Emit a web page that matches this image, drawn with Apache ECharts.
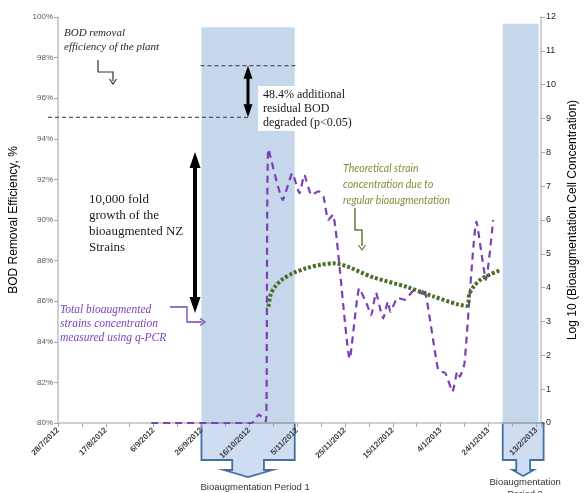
<!DOCTYPE html>
<html><head><meta charset="utf-8">
<script src="https://cdn.jsdelivr.net/npm/echarts@6/dist/echarts.min.js"></script>
<style>html,body{margin:0;padding:0;background:#fff}#c{width:587px;height:493px}</style>
</head><body><div id="c"></div>
<script>
// ---------- data ----------
const axisStart = '2012-07-28';
const xTickLabels = ['28/7/2012','17/8/2012','6/9/2012','26/9/2012','16/10/2012','5/11/2012',
  '25/11/2012','15/12/2012','4/1/2013','24/1/2013','13/2/2013'];
const axisEnd = '2013-02-15';

// Total bioaugmented strains concentration measured using q-PCR (log10)
const qpcrDates = ['2012-09-05','2012-10-17','2012-10-20','2012-10-23','2012-10-24','2012-10-30',
  '2012-11-03','2012-11-06','2012-11-08','2012-11-11','2012-11-14','2012-11-16','2012-11-18',
  '2012-11-20','2012-11-27','2012-12-01','2012-12-04','2012-12-06','2012-12-08','2012-12-10',
  '2012-12-11','2012-12-13','2012-12-14','2012-12-17','2012-12-20','2012-12-24','2012-12-27',
  '2012-12-28','2013-01-03','2013-01-06','2013-01-09','2013-01-11','2013-01-12','2013-01-14',
  '2013-01-19','2013-01-23','2013-01-26'];
const qpcrLog10 = [0, 0, 0.25, 0.05, 8.1, 6.59,
  7.38, 6.79, 7.33, 6.74, 6.85, 6.7, 6.0,
  6.15, 1.9, 3.98, 3.54, 3.19, 3.85, 3.3,
  3.09, 3.59, 3.29, 3.7, 3.64, 3.93, 3.83,
  3.98, 1.57, 1.47, 0.93, 1.52, 1.37, 1.76,
  5.95, 4.23, 6.0];

// Theoretical strain concentration due to regular bioaugmentation (log10)
const theoryDates = ['2012-10-24','2012-10-25','2012-10-27','2012-10-30','2012-11-03','2012-11-09',
  '2012-11-15','2012-11-20','2012-12-07','2012-12-21','2013-01-01','2013-01-15','2013-01-16',
  '2013-01-18','2013-01-21','2013-01-25','2013-01-29'];
const theoryLog10 = [3.44, 3.8, 4.05, 4.25, 4.42, 4.58,
  4.68, 4.72, 4.3, 4.02, 3.74, 3.46, 3.8,
  4.05, 4.25, 4.4, 4.52];

// Bioaugmentation periods
const periodStart = ['2012-09-26','2013-01-30'];
const periodEnd = ['2012-11-04','2013-02-14'];
const periodTop = [11.7, 11.8];
const periodLabels = ['Bioaugmentation Period 1', 'Bioaugmentation\nPeriod 2'];

// BOD removal efficiency of the plant (%): before, after
const bodEfficiency = [95.06, 97.6];

// ---------- helpers ----------
function day(s) {
  const a = s.split('-').map(Number), b = axisStart.split('-').map(Number);
  return (Date.UTC(a[0], a[1]-1, a[2]) - Date.UTC(b[0], b[1]-1, b[2])) / 86400000;
}
const qpcrData = qpcrDates.map((d, i) => [day(d), qpcrLog10[i]]);
const theoryData = theoryDates.map((d, i) => [day(d), theoryLog10[i]]);
const periodData = periodStart.map((d, i) => [day(d), day(periodEnd[i]), periodTop[i], i]);

const chart = echarts.init(document.getElementById('c'), null, {renderer: 'canvas'});
const grey = '#bfbfbf';

chart.setOption({
  animation: false,
  backgroundColor: '#fff',
  grid: {left: 57, right: 45, top: 17, bottom: 70, containLabel: false},
  xAxis: {
    type: 'value', min: 0, max: day(axisEnd), interval: 10, z: 2,
    splitLine: {show: false},
    axisLine: {lineStyle: {color: grey, width: 1.5}},
    axisTick: {length: 4, lineStyle: {color: '#a6a6a6'}},
    axisLabel: {
      rotate: 45, fontSize: 8, fontWeight: 'bold', color: '#404040', margin: 6,
      fontFamily: 'Liberation Sans',
      formatter: v => (v % 20 === 0 && v / 20 < xTickLabels.length) ? xTickLabels[v / 20] : ''
    }
  },
  yAxis: [{
    type: 'value', min: 80, max: 100, interval: 2, position: 'left',
    name: 'BOD Removal Efficiency, %', nameLocation: 'middle', nameGap: 38,
    nameTextStyle: {fontSize: 12, color: '#000', fontFamily: 'Liberation Sans'},
    splitLine: {show: false},
    axisLine: {show: true, lineStyle: {color: grey, width: 1.5}},
    axisTick: {show: true, length: 4, lineStyle: {color: '#a6a6a6'}},
    axisLabel: {formatter: '{value}%', fontSize: 8, color: '#595959', margin: 5, fontFamily: 'Liberation Sans'}
  }, {
    type: 'value', min: 0, max: 12, interval: 1, position: 'right',
    name: 'Log 10 (Bioaugmentation Cell Concentration)', nameLocation: 'middle', nameGap: 26, nameRotate: 90,
    nameTextStyle: {fontSize: 12, color: '#000', fontFamily: 'Liberation Sans', padding: [0, 0, 0, 0]},
    splitLine: {show: false},
    axisLine: {show: true, lineStyle: {color: grey, width: 1.5}},
    axisTick: {show: true, length: 4, lineStyle: {color: '#a6a6a6'}},
    axisLabel: {fontSize: 9, color: '#262626', margin: 5, fontFamily: 'Liberation Sans'}
  }],
  series: [{
    type: 'custom', yAxisIndex: 1, z: 1, clip: false, silent: true,
    encode: {x: [0, 1], y: 2},
    data: periodData,
    renderItem: (params, api) => {
      const s = api.value(0), e = api.value(1), top = api.value(2), idx = api.value(3);
      const a = api.coord([s, 0]), b = api.coord([e, top]);
      const L = a[0], R = b[0] + (idx === 1 ? 5 : 0), yb = a[1];
      const w = R - L, cx = (L + R) / 2;
      const stem = 0.17 * w, wing = 0.26 * w;
      const bBot = yb + 37, sBot = bBot + 10, tip = sBot + (idx === 0 ? 7 : 6);
      const lines = periodLabels[idx].split('\n').length;
      return {type: 'group', children: [
        {type: 'rect', shape: {x: a[0], y: b[1], width: b[0] - a[0], height: a[1] - b[1]},
          style: {fill: '#c6d7ec'}},
        {type: 'polygon', shape: {points: [[L, yb], [R, yb], [R, bBot], [cx + stem, bBot], [cx + stem, sBot],
          [cx + wing, sBot], [cx, tip], [cx - wing, sBot], [cx - stem, sBot], [cx - stem, bBot], [L, bBot]]},
          style: {fill: 'rgba(190,210,236,0.75)', stroke: '#41709f', lineWidth: 1.8}, z2: 5},
        {type: 'text', x: cx + (idx === 0 ? 7 : 2), y: tip + (lines > 1 ? 0 : 4),
          style: {text: periodLabels[idx], fill: '#333', fontSize: 9.5, fontFamily: 'Liberation Sans',
            align: 'center', verticalAlign: 'top', lineHeight: 12}, z2: 6}
      ]};
    }
  }, {
    name: 'q-PCR', type: 'line', yAxisIndex: 1, z: 3, data: qpcrData,
    showSymbol: false, smooth: 0.15,
    lineStyle: {color: '#7b3fb8', width: 2.2, type: [7, 5]}
  }, {
    name: 'Theoretical', type: 'line', yAxisIndex: 1, z: 4, data: theoryData,
    showSymbol: false, smooth: 0.3,
    lineStyle: {color: '#4b6e2e', width: 4, type: [3, 2], cap: 'butt'}
  }]
});

// ---------- annotations ----------
const X = d => chart.convertToPixel({xAxisIndex: 0}, d);
const YL = v => chart.convertToPixel({yAxisIndex: 0}, v);

function head(x, y, dx, dy, len, half, color, open) {
  const bx = x - dx * len, by = y - dy * len, px = -dy * half, py = dx * half;
  const pts = [[bx + px, by + py], [x, y], [bx - px, by - py]];
  return open
    ? {type: 'polyline', shape: {points: pts}, style: {stroke: color, lineWidth: 1.2, fill: null}, z: 100}
    : {type: 'polygon', shape: {points: pts}, style: {fill: color}, z: 100};
}
function txt(x, y, text, size, color, family, italic, lh) {
  return {type: 'text', x, y, z: 101, style: {text, fontSize: size, fill: color, fontFamily: family,
    fontStyle: italic ? 'italic' : 'normal', lineHeight: lh, verticalAlign: 'top', align: 'left'}};
}
const yHi = YL(bodEfficiency[1]), yLo = YL(bodEfficiency[0]);
const xP1 = X(day(periodStart[0])), xP1e = X(day(periodEnd[0]));
const serif = 'Liberation Serif';
const purple = '#7b3fb8', olive = '#8c8a3a', green = '#5f7d36';

const g = [
  // BOD removal efficiency of the plant
  txt(64, 26, 'BOD removal\nefficiency of the plant', 11, '#262626', serif, true, 14),
  {type: 'polyline', z: 100, shape: {points: [[98, 60], [98, 72], [113, 72], [113, 81]]},
    style: {stroke: '#333', lineWidth: 1.2, fill: null}},
  head(113, 84, 0, 1, 5, 3.5, '#333', true),
  // dashed levels
  {type: 'line', z: 100, shape: {x1: xP1 - 1, y1: yHi, x2: xP1e + 1, y2: yHi},
    style: {stroke: '#333', lineWidth: 1, lineDash: [4, 3]}},
  {type: 'line', z: 100, shape: {x1: 48, y1: yLo, x2: 248, y2: yLo},
    style: {stroke: '#333', lineWidth: 1, lineDash: [4, 3]}},
  // double arrow 48.4%
  {type: 'line', z: 100, shape: {x1: 248, y1: yHi + 10, x2: 248, y2: yLo - 10},
    style: {stroke: '#000', lineWidth: 3}},
  head(248, yHi, 0, -1, 13, 4.5, '#000'),
  head(248, yLo, 0, 1, 13, 4.5, '#000'),
  {type: 'rect', z: 99, shape: {x: 258, y: 86, width: 98, height: 45}, style: {fill: '#fff'}},
  txt(263, 88, '48.4% additional\nresidual BOD\ndegraded (p<0.05)', 12, '#1a1a1a', serif, false, 14),
  // 10,000 fold
  {type: 'rect', z: 99, shape: {x: 84, y: 190, width: 104, height: 66}, style: {fill: '#fff'}},
  txt(89, 192, '10,000 fold\ngrowth of the\nbioaugmented NZ\nStrains', 13, '#1a1a1a', serif, false, 16),
  {type: 'line', z: 100, shape: {x1: 195, y1: 166, x2: 195, y2: 299}, style: {stroke: '#000', lineWidth: 4}},
  head(195, 152, 0, -1, 16, 5.5, '#000'),
  head(195, 313, 0, 1, 16, 5.5, '#000'),
  // q-PCR label
  txt(60, 303, 'Total bioaugmented\nstrains concentration\nmeasured using q-PCR', 11.5, purple, serif, true, 14),
  {type: 'polyline', z: 100, shape: {points: [[170, 307], [187, 307], [187, 322], [202, 322]]},
    style: {stroke: purple, lineWidth: 1.3, fill: null}},
  head(205, 322, 1, 0, 5, 3.5, purple, true),
  // theoretical label
  txt(343, 161, 'Theoretical strain\nconcentration due to\nregular bioaugmentation', 10.5, olive, 'Lato', true, 16),
  {type: 'polyline', z: 100, shape: {points: [[355, 208], [355, 230], [362, 230], [362, 246]]},
    style: {stroke: green, lineWidth: 1.5, fill: null}},
  head(362, 250, 0, 1, 5, 3.5, green, true)
];
chart.setOption({graphic: g});
</script></body></html>
